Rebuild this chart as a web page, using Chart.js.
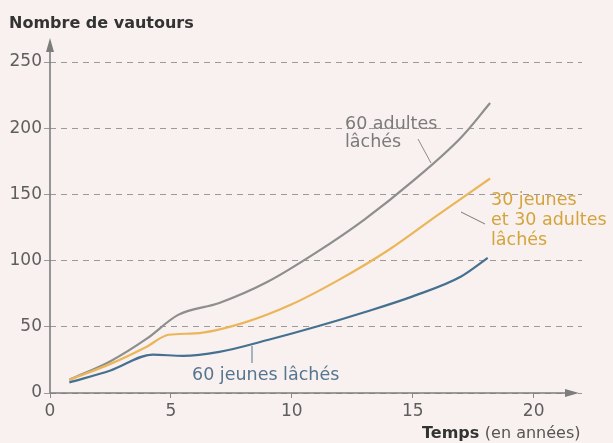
<!DOCTYPE html>
<html><head><meta charset="utf-8">
<script src="https://cdn.jsdelivr.net/npm/chart.js@4"></script>
<style>html,body{margin:0;padding:0;background:#f8f1ef;}#wrap{width:613px;height:443px;position:relative;}</style>
</head><body><div id="wrap"><canvas id="c" width="613" height="443"></canvas></div>
<script>
// Data (years, number of vultures)
const adultsX = [0.8, 2.5, 4, 5.3, 7, 9, 11, 13, 15, 17, 18.2];
const adultsY = [10, 24, 41, 59, 68, 84, 106, 131, 160, 193, 219];
const mixedX = [0.8, 2.5, 4, 4.9, 6, 8, 10, 12, 14, 16, 18.2];
const mixedY = [10, 22, 35, 44, 45, 53, 67, 86, 108, 134, 162];
const youngX = [0.8, 2.5, 4.25, 5.5, 7, 9, 11, 13, 15, 17, 18.1];
const youngY = [8, 17, 29, 28, 31, 40, 50, 61, 73, 88, 102];
const yTicks = [0, 50, 100, 150, 200, 250];
const xTicks = [0, 5, 10, 15, 20];

const pts = (xs, ys) => xs.map((x, i) => ({x: x, y: ys[i]}));
const FONT = "'DejaVu Sans', 'Noto Sans', sans-serif";

const deco = {
  id: 'deco',
  beforeDraw(chart) {
    const c = chart.ctx;
    c.save();
    c.fillStyle = '#f8f1ef';
    c.fillRect(0, 0, chart.width, chart.height);
    c.restore();
  },
  afterDraw(chart) {
    const c = chart.ctx;
    const xs = chart.scales.x, ys = chart.scales.y;
    c.save();
    // axes with arrows
    c.strokeStyle = '#7d7d7d'; c.fillStyle = '#7d7d7d'; c.lineWidth = 1.6;
    const x0 = xs.getPixelForValue(0), y0 = ys.getPixelForValue(0);
    c.beginPath(); c.moveTo(x0, y0); c.lineTo(x0, 42); c.stroke();
    c.beginPath(); c.moveTo(x0, 38); c.lineTo(x0 - 4, 52); c.lineTo(x0 + 4, 52); c.closePath(); c.fill();
    c.beginPath(); c.moveTo(x0, y0); c.lineTo(574, y0); c.stroke();
    c.beginPath(); c.moveTo(579, y0); c.lineTo(565, y0 - 4); c.lineTo(565, y0 + 4); c.closePath(); c.fill();
    // title
    c.fillStyle = '#333'; c.font = 'bold 16px ' + FONT; c.textBaseline = 'alphabetic'; c.textAlign = 'left';
    c.fillText('Nombre de vautours', 9, 28);
    // x title
    c.font = 'bold 16px ' + FONT; c.fillStyle = '#333';
    c.fillText('Temps', 422, 438);
    const wt = c.measureText('Temps ').width;
    c.font = '16px ' + FONT; c.fillStyle = '#555';
    c.fillText('(en années)', 422 + wt, 438);
    // annotations
    c.font = '17.5px ' + FONT;
    c.fillStyle = '#7a7a7a';
    c.fillText('60 adultes', 345, 129);
    c.fillText('lâchés', 345, 147);
    c.strokeStyle = '#8c8c8c'; c.lineWidth = 1;
    c.beginPath(); c.moveTo(418, 139); c.lineTo(431, 163); c.stroke();
    c.fillStyle = '#d4a43c';
    c.fillText('30 jeunes', 491, 205);
    c.fillText('et 30 adultes', 491, 225);
    c.fillText('lâchés', 491, 245);
    c.strokeStyle = '#7a7a7a';
    c.beginPath(); c.moveTo(461, 212); c.lineTo(485, 224); c.stroke();
    c.fillStyle = '#557590';
    c.fillText('60 jeunes lâchés', 192, 380);
    c.strokeStyle = '#557590';
    c.beginPath(); c.moveTo(252, 346); c.lineTo(252, 363); c.stroke();
    c.restore();
  }
};

const ds = (label, data, color) => ({
  label, data, borderColor: color, borderWidth: 2.2, pointRadius: 0,
  cubicInterpolationMode: 'monotone', fill: false
});

new Chart(document.getElementById('c'), {
  type: 'line',
  data: {
    datasets: [
      ds('60 jeunes lâchés', pts(youngX, youngY), '#46708f'),
      ds('30 jeunes et 30 adultes lâchés', pts(mixedX, mixedY), '#ebb65a'),
      ds('60 adultes lâchés', pts(adultsX, adultsY), '#8e8e8e')
    ]
  },
  options: {
    responsive: false, animation: false,
    layout: {padding: {top: 62, right: 31, left: 0, bottom: 0}},
    plugins: {legend: {display: false}, tooltip: {enabled: false}},
    scales: {
      x: {
        type: 'linear', min: 0, max: 22,
        afterFit(s) { s.height = 50; },
        afterBuildTicks(s) { s.ticks = xTicks.map(v => ({value: v})); },
        border: {display: false},
        grid: {drawOnChartArea: false, drawTicks: true, tickLength: 5, color: '#8a8a8a'},
        ticks: {color: '#5e5e5e', font: {size: 17, family: FONT}, padding: 3}
      },
      y: {
        min: 0, max: 250,
        afterFit(s) { s.width = 50; },
        afterBuildTicks(s) { s.ticks = yTicks.map(v => ({value: v})); },
        border: {display: false, dash: [6, 5]},
        grid: {color: '#9a9a9a', lineWidth: 1, tickLength: 6, drawTicks: true},
        ticks: {color: '#5e5e5e', font: {size: 17, family: FONT}, padding: 2}
      }
    }
  },
  plugins: [deco]
});
</script></body></html>
